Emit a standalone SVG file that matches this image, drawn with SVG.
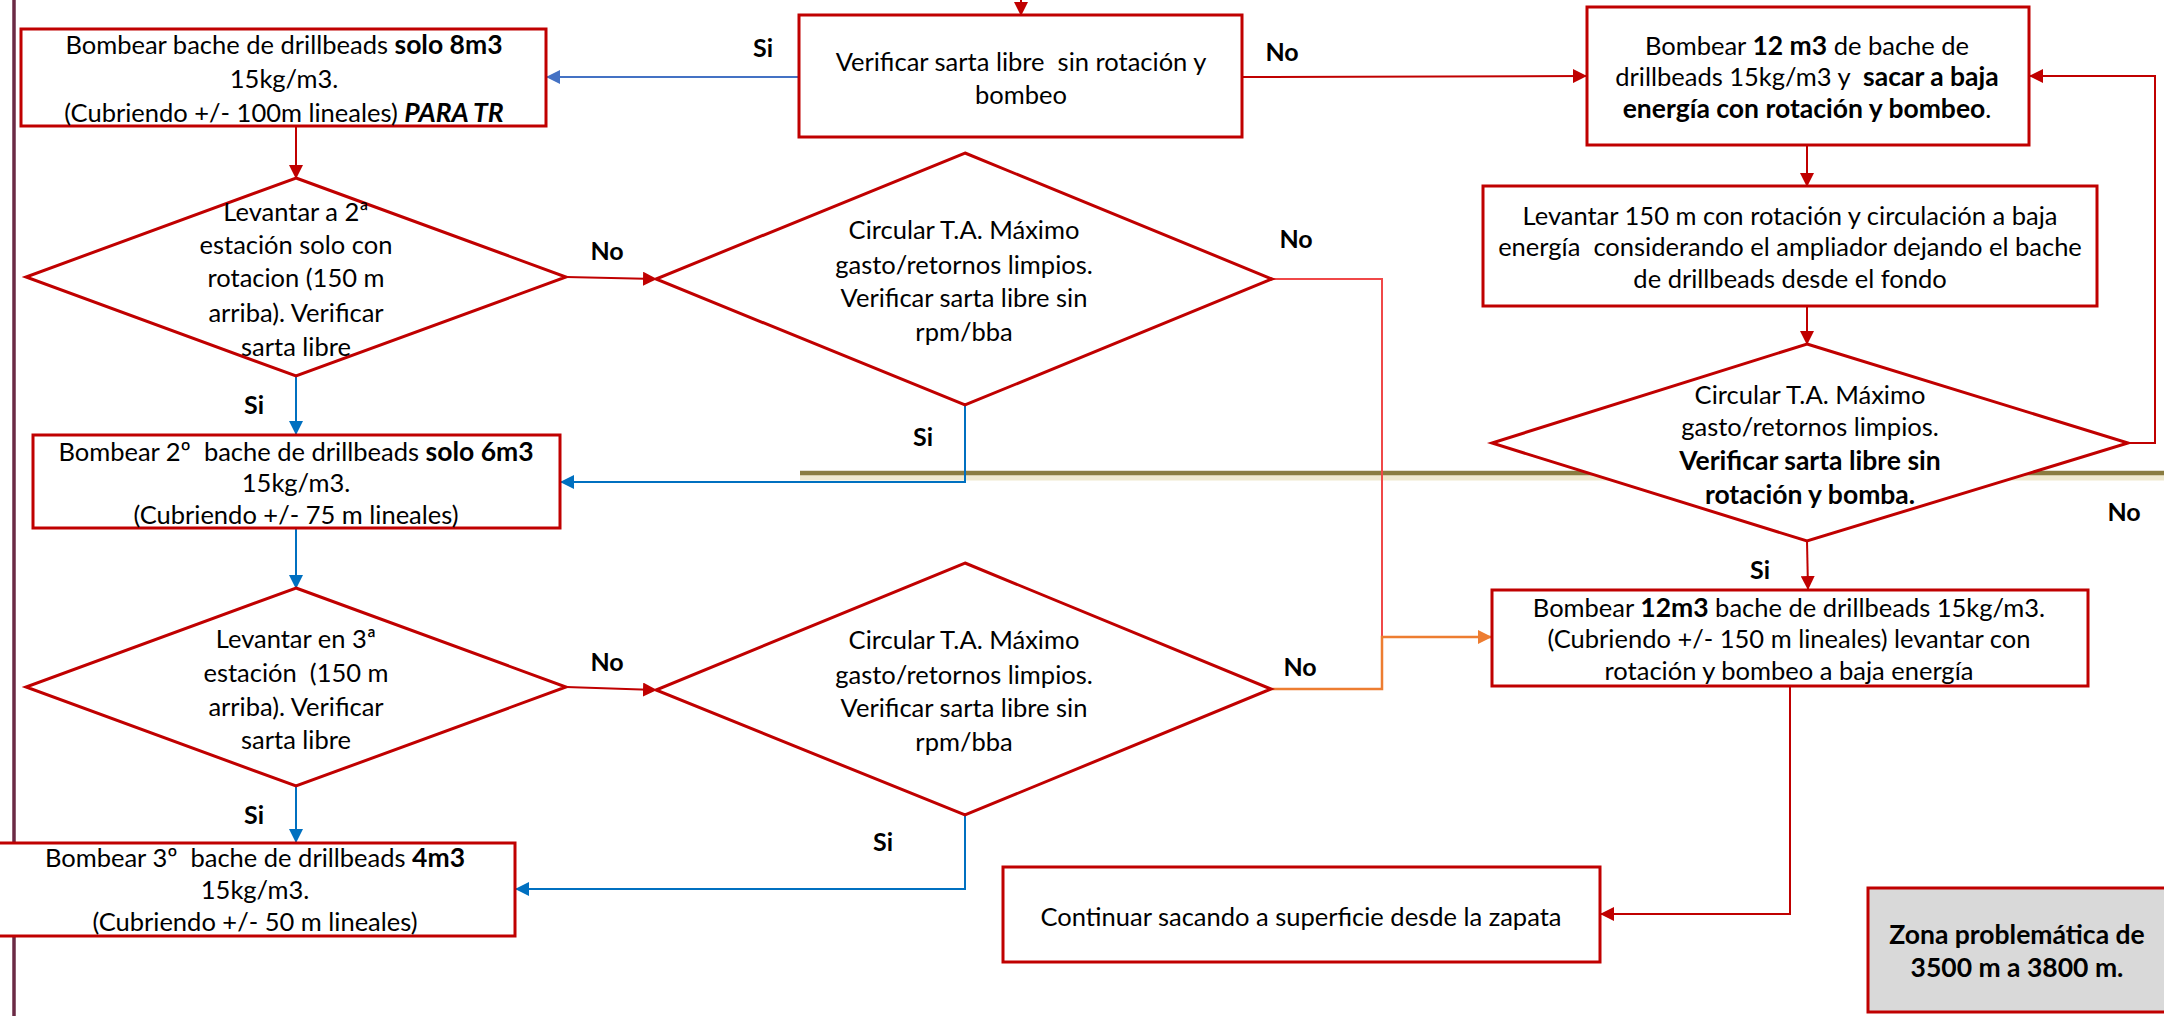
<svg xmlns="http://www.w3.org/2000/svg" width="2164" height="1016" viewBox="0 0 2164 1016">
<style>
text{font-family:Lato,"Liberation Sans",sans-serif;font-size:25.5px;fill:#000;text-anchor:middle;white-space:pre}
.b{font-weight:bold;font-size:26.5px}
.lbl{font-weight:bold;font-size:25px}
.box{fill:#fff;stroke:#C00000;stroke-width:3}
.c{fill:none;stroke-width:2}
.r{stroke:#C00000}
.bl{stroke:#0070C0}
.bl2{stroke:#4472C4}
.or{stroke:#ED7D31;stroke-width:2.5}
</style>
<defs>
<marker id="mr" markerUnits="userSpaceOnUse" markerWidth="14" markerHeight="14" refX="13" refY="7" orient="auto"><path d="M0,0 L14,7 L0,14 z" fill="#C00000"/></marker>
<marker id="mb" markerUnits="userSpaceOnUse" markerWidth="14" markerHeight="14" refX="13" refY="7" orient="auto"><path d="M0,0 L14,7 L0,14 z" fill="#0070C0"/></marker>
<marker id="mb2" markerUnits="userSpaceOnUse" markerWidth="14" markerHeight="14" refX="13" refY="7" orient="auto"><path d="M0,0 L14,7 L0,14 z" fill="#4472C4"/></marker>
<marker id="mo" markerUnits="userSpaceOnUse" markerWidth="14" markerHeight="14" refX="13" refY="7" orient="auto"><path d="M0,0 L14,7 L0,14 z" fill="#ED7D31"/></marker>
</defs>
<rect width="2164" height="1016" fill="#fff"/>
<line x1="14" y1="0" x2="14" y2="1016" stroke="#6b2a45" stroke-width="3.5"/>
<g id="separator">
<line x1="800" y1="476" x2="2164" y2="476" stroke="#efe9cf" stroke-width="9"/>
<line x1="800" y1="473" x2="2164" y2="473" stroke="#8a7c40" stroke-width="4.5"/>
</g>
<g id="connectors">
<line class="c r" x1="1021" y1="-5" x2="1021" y2="15" marker-end="url(#mr)"/>
<line class="c bl2" x1="799" y1="77" x2="547" y2="77" marker-end="url(#mb2)"/>
<line class="c r" x1="1242" y1="77" x2="1586" y2="76" marker-end="url(#mr)"/>
<line class="c r" x1="296" y1="126" x2="296" y2="178" marker-end="url(#mr)"/>
<line class="c r" x1="566" y1="277" x2="656" y2="279" marker-end="url(#mr)"/>
<line class="c bl" x1="296" y1="376" x2="296" y2="434" marker-end="url(#mb)"/>
<polyline class="c bl" points="965,405 965,482 561,482" marker-end="url(#mb)"/>
<polyline class="c" stroke="#F04848" stroke-width="1.5" points="1272,279 1382,279 1382,637"/>
<polyline class="c or" points="1271,689 1382,689 1382,637 1491,637" marker-end="url(#mo)"/>
<line class="c bl" x1="296" y1="528" x2="296" y2="588" marker-end="url(#mb)"/>
<line class="c r" x1="566" y1="687" x2="656" y2="690" marker-end="url(#mr)"/>
<line class="c bl" x1="296" y1="786" x2="296" y2="842" marker-end="url(#mb)"/>
<polyline class="c bl" points="965,815 965,889 516,889" marker-end="url(#mb)"/>
<line class="c r" x1="1807" y1="145" x2="1807" y2="186" marker-end="url(#mr)"/>
<line class="c r" x1="1807" y1="306" x2="1807" y2="344" marker-end="url(#mr)"/>
<polyline class="c r" stroke-width="1.5" points="2128,443 2155,443 2155,76 2030,76" marker-end="url(#mr)"/>
<line class="c r" x1="1807" y1="541" x2="1808" y2="589" marker-end="url(#mr)"/>
<polyline class="c r" stroke-width="1.5" points="1790,686 1790,914 1601,914" marker-end="url(#mr)"/>
</g>
<g id="box1">
<rect class="box" x="21" y="29" width="525" height="97"/>
<text x="284" y="54">Bombear bache de drillbeads <tspan class="b">solo 8m3</tspan></text>
<text x="284" y="88">15kg/m3.</text>
<text x="284" y="122">(Cubriendo +/- 100m lineales) <tspan class="b" font-style="italic">PARA TR</tspan></text>
</g>
<g id="box2">
<rect class="box" x="799" y="15" width="443" height="122"/>
<text x="1021" y="71">Verificar sarta libre  sin rotación y</text>
<text x="1021" y="104">bombeo</text>
</g>
<g id="box3">
<rect class="box" x="1587" y="7" width="442" height="138"/>
<text x="1807" y="55">Bombear <tspan class="b">12 m3</tspan> de bache de</text>
<text x="1807" y="86">drillbeads 15kg/m3 y  <tspan class="b">sacar a baja</tspan></text>
<text x="1807" y="118"><tspan class="b">energía con rotación y bombeo</tspan>.</text>
</g>
<g id="box4">
<rect class="box" x="1483" y="186" width="614" height="120"/>
<text x="1790" y="225">Levantar 150 m con rotación y circulación a baja</text>
<text x="1790" y="256">energía  considerando el ampliador dejando el bache</text>
<text x="1790" y="288">de drillbeads desde el fondo</text>
</g>
<g id="diamond3">
<polygon class="box" points="1807,344 2128,443 1807,541 1492,443"/>
<text x="1810" y="404">Circular T.A. Máximo</text>
<text x="1810" y="436">gasto/retornos limpios.</text>
<text x="1810" y="470" class="b">Verificar sarta libre sin</text>
<text x="1810" y="504" class="b">rotación y bomba.</text>
</g>
<g id="diamond1">
<polygon class="box" points="296,178 566,277 296,376 26,277"/>
<text x="296" y="221">Levantar a 2ª</text>
<text x="296" y="254">estación solo con</text>
<text x="296" y="287">rotacion (150 m</text>
<text x="296" y="322">arriba). Verificar</text>
<text x="296" y="356">sarta libre</text>
</g>
<g id="diamond2">
<polygon class="box" points="965,153 1272,279 965,405 656,279"/>
<text x="964" y="239">Circular T.A. Máximo</text>
<text x="964" y="274">gasto/retornos limpios.</text>
<text x="964" y="307">Verificar sarta libre sin</text>
<text x="964" y="341">rpm/bba</text>
</g>
<g id="box_2">
<rect class="box" x="33" y="435" width="527" height="93"/>
<text x="296" y="461">Bombear 2º  bache de drillbeads <tspan class="b">solo 6m3</tspan></text>
<text x="296" y="492">15kg/m3.</text>
<text x="296" y="524">(Cubriendo +/- 75 m lineales)</text>
</g>
<g id="diamond4">
<polygon class="box" points="296,588 566,687 296,786 26,687"/>
<text x="296" y="648">Levantar en 3ª</text>
<text x="296" y="682">estación  (150 m</text>
<text x="296" y="716">arriba). Verificar</text>
<text x="296" y="749">sarta libre</text>
</g>
<g id="diamond5">
<polygon class="box" points="965,563 1271,689 965,815 656,690"/>
<text x="964" y="649">Circular T.A. Máximo</text>
<text x="964" y="684">gasto/retornos limpios.</text>
<text x="964" y="717">Verificar sarta libre sin</text>
<text x="964" y="751">rpm/bba</text>
</g>
<g id="box5">
<rect class="box" x="-3" y="843" width="518" height="93"/>
<text x="255" y="867">Bombear 3º  bache de drillbeads <tspan class="b">4m3</tspan></text>
<text x="255" y="899">15kg/m3.</text>
<text x="255" y="931">(Cubriendo +/- 50 m lineales)</text>
</g>
<g id="box6">
<rect class="box" x="1492" y="590" width="596" height="96"/>
<text x="1789" y="617">Bombear <tspan class="b">12m3</tspan> bache de drillbeads 15kg/m3.</text>
<text x="1789" y="648">(Cubriendo +/- 150 m lineales) levantar con</text>
<text x="1789" y="680">rotación y bombeo a baja energía</text>
</g>
<g id="box7">
<rect class="box" x="1003" y="867" width="597" height="95"/>
<text x="1301" y="926">Continuar sacando a superficie desde la zapata</text>
</g>
<g id="box8">
<rect x="1868" y="888" width="300" height="124" fill="#D9D9D9" stroke="#C00000" stroke-width="3"/>
<text x="2017" y="944" class="b" font-size="27.5px">Zona problemática de</text>
<text x="2017" y="977" class="b" font-size="27.5px">3500 m a 3800 m.</text>
</g>
<g id="labels">
<text class="lbl" x="763" y="57">Si</text>
<text class="lbl" x="1282" y="61">No</text>
<text class="lbl" x="607" y="260">No</text>
<text class="lbl" x="1296" y="248">No</text>
<text class="lbl" x="254" y="414">Si</text>
<text class="lbl" x="923" y="446">Si</text>
<text class="lbl" x="2124" y="521">No</text>
<text class="lbl" x="1760" y="579">Si</text>
<text class="lbl" x="607" y="671">No</text>
<text class="lbl" x="1300" y="676">No</text>
<text class="lbl" x="254" y="824">Si</text>
<text class="lbl" x="883" y="851">Si</text>
</g>
</svg>
